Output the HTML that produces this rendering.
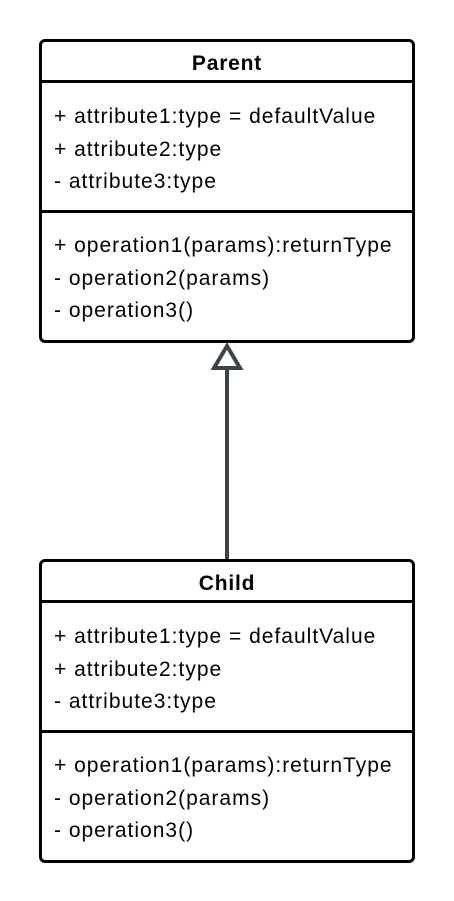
<!DOCTYPE html>
<html><head><style>
body{margin:0;width:454px;height:901px;background:#fff;position:relative;font-family:"Liberation Sans",sans-serif;color:#000}
.box{position:absolute;left:39px;width:370px;border:3px solid #000;border-radius:6px;background:#fff}
.t{position:absolute;left:0;right:0;text-align:center;font-weight:bold;font-size:21px;letter-spacing:0.8px}
.l{position:absolute;left:12px;font-size:21px;letter-spacing:1px;white-space:nowrap}
.h{position:absolute;left:0;right:0;height:3px;background:#000}
</style></head><body>
<svg width="454" height="901" style="position:absolute;left:0;top:0">
<line x1="227" y1="369" x2="227" y2="560" stroke="#3d434b" stroke-width="4"/>
<polygon points="227,346 214,368 240,368" fill="#fff" stroke="#3d434b" stroke-width="4" stroke-linejoin="miter"/>
</svg>
<div class="box" style="top:39px;height:298px">
<div class="t" style="top:10px">Parent</div>
<div class="h" style="top:38px"></div>
<div class="l" style="top:63px">+ attribute1:type = defaultValue</div>
<div class="l" style="top:96px">+ attribute2:type</div>
<div class="l" style="top:128px">- attribute3:type</div>
<div class="h" style="top:168px"></div>
<div class="l" style="top:192px">+ operation1(params):returnType</div>
<div class="l" style="top:225px">- operation2(params)</div>
<div class="l" style="top:257px">- operation3()</div>
</div>
<div class="box" style="top:559px;height:298px">
<div class="t" style="top:10px">Child</div>
<div class="h" style="top:38px"></div>
<div class="l" style="top:63px">+ attribute1:type = defaultValue</div>
<div class="l" style="top:96px">+ attribute2:type</div>
<div class="l" style="top:128px">- attribute3:type</div>
<div class="h" style="top:168px"></div>
<div class="l" style="top:192px">+ operation1(params):returnType</div>
<div class="l" style="top:225px">- operation2(params)</div>
<div class="l" style="top:257px">- operation3()</div>
</div>
</body></html>
